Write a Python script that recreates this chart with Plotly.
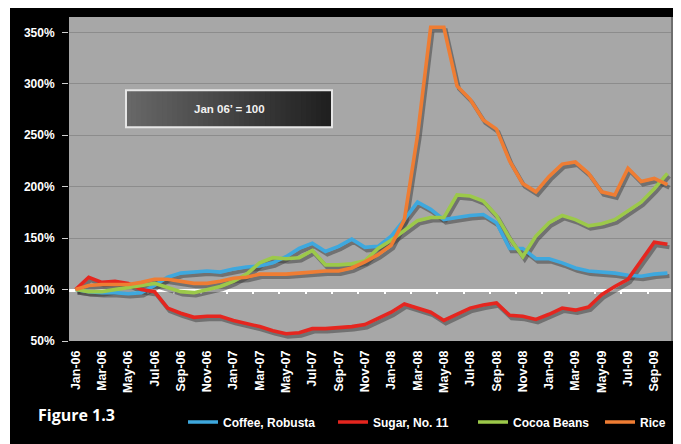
import plotly.graph_objects as go

# ---- data (index, Jan 2006 = 100) ----
months = ["Jan-06", "Feb-06", "Mar-06", "Apr-06", "May-06", "Jun-06", "Jul-06", "Aug-06", "Sep-06", "Oct-06", "Nov-06", "Dec-06",
          "Jan-07", "Feb-07", "Mar-07", "Apr-07", "May-07", "Jun-07", "Jul-07", "Aug-07", "Sep-07", "Oct-07", "Nov-07", "Dec-07",
          "Jan-08", "Feb-08", "Mar-08", "Apr-08", "May-08", "Jun-08", "Jul-08", "Aug-08", "Sep-08", "Oct-08", "Nov-08", "Dec-08",
          "Jan-09", "Feb-09", "Mar-09", "Apr-09", "May-09", "Jun-09", "Jul-09", "Aug-09", "Sep-09", "Oct-09"]

coffee = [100, 98, 97, 97, 96, 97, 104, 112, 116, 117, 118, 117,
          120, 122, 123, 126, 132, 140, 145, 137, 142, 149, 141, 142,
          152, 168, 185, 178, 168, 170, 172, 173, 165, 140, 140, 130,
          130, 126, 121, 118, 117, 116, 114, 113, 115, 116]

sugar = [100, 112, 107, 108, 106, 100, 98, 82, 77, 73, 74, 74,
         70, 67, 64, 60, 57, 58, 62, 62, 63, 64, 66, 72,
         78, 86, 82, 78, 70, 76, 82, 85, 87, 75, 74, 71,
         76, 82, 80, 83, 95, 103, 110, 128, 146, 144]

cocoa = [100, 98, 98, 100, 102, 104, 106, 102, 98, 97, 100, 103,
         108, 115, 126, 131, 130, 131, 138, 124, 124, 125, 128, 140,
         148, 158, 167, 170, 170, 192, 191, 186, 172, 150, 132, 152,
         165, 172, 168, 162, 164, 168, 176, 185, 198, 213]

rice = [100, 104, 105, 105, 105, 107, 110, 110, 108, 106, 106, 108,
        111, 112, 115, 115, 115, 116, 117, 118, 118, 121, 127, 134,
        143, 168, 250, 355, 355, 298, 285, 265, 256, 225, 203, 195,
        210, 222, 224, 213, 195, 192, 218, 205, 208, 202]

series = [("Coffee, Robusta", coffee, "#3ea8de"),
          ("Sugar, No. 11", sugar, "#e5261f"),
          ("Cocoa Beans", cocoa, "#9cc94a"),
          ("Rice", rice, "#ef7d33")]

y_ticks = [50, 100, 150, 200, 250, 300, 350]
y_tick_text = ["50%", "100%", "150%", "200%", "250%", "300%", "350%"]

idx = list(range(len(months)))
x_range = [-0.5, len(months) - 0.5]
y_range = [50, 365]

# plot box in page pixels (page has an 8px body margin round the figure)
PL, PR, PT, PB = 69, 674, 17, 349
PW, PH = PR - PL, PB - PT


def px(x):
    return (x - PL) / PW


def py(y):
    return (PB - y) / PH


# shadow offset (pixels -> data units)
sx = 2 / (PW / len(months))
sy = 3 / (PH / (y_range[1] - y_range[0]))

fig = go.Figure()

# shadows on the base axes (shifted ranges)
for name, vals, col in series:
    fig.add_trace(go.Scatter(x=idx, y=vals, mode="lines", showlegend=False, hoverinfo="skip",
                             line=dict(color="rgba(60,60,60,0.5)", width=4),
                             xaxis="x", yaxis="y"))

# real lines on the overlay axes, each with its own legend box
legend_x = [183, 333, 473, 600]
for k, (name, vals, col) in enumerate(series):
    fig.add_trace(go.Scatter(x=idx, y=vals, mode="lines", name=name,
                             line=dict(color=col, width=3.6),
                             xaxis="x2", yaxis="y2",
                             legend="legend" if k == 0 else f"legend{k + 1}"))

# carrier for the white 100% axis line
fig.add_trace(go.Scatter(x=[], y=[], xaxis="x3", yaxis="y2", showlegend=False))

x_font = dict(family="Liberation Sans, Arial", size=12.5, color="white", weight="bold")
y_font = dict(family="Liberation Sans, Arial", size=12, color="white", weight="bold")
leg_font = dict(family="Liberation Sans, Arial", size=12, color="white", weight="bold")

fig.update_layout(
    width=681 - 8, height=444 - 8,
    margin=dict(l=PL - 8, r=681 - PR, t=PT - 8, b=444 - PB),
    paper_bgcolor="black",
    plot_bgcolor="#a7a7a7",
    showlegend=True,
    xaxis=dict(range=[x_range[0] - sx, x_range[1] - sx], visible=False, fixedrange=True),
    yaxis=dict(range=[y_range[0] + sy, y_range[1] + sy], visible=False, fixedrange=True),
    xaxis2=dict(overlaying="x", anchor="y2", side="bottom", range=x_range,
                tickmode="array", tickvals=idx[::2], ticktext=months[::2],
                tickangle=-90, tickfont=x_font, ticks="", showgrid=False,
                ticklabelstandoff=6, showline=False, zeroline=False),
    yaxis2=dict(overlaying="y", anchor="x2", side="left", range=y_range,
                tickmode="array", tickvals=y_ticks, ticktext=y_tick_text,
                tickfont=y_font, ticks="outside", ticklen=6, tickcolor="#cfcfcf",
                ticklabelstandoff=5, showgrid=True, gridcolor="#8c8c8c", gridwidth=1,
                showline=False, zeroline=False),
    xaxis3=dict(overlaying="x", anchor="free",
                position=(100 - y_range[0]) / (y_range[1] - y_range[0]),
                range=x_range, showline=True, linecolor="white", linewidth=2.5,
                ticks="outside", ticklen=3, tickwidth=1.5, tickcolor="white",
                tickmode="array", tickvals=[i + 0.5 for i in idx[1::2]],
                showticklabels=False, showgrid=False, zeroline=False, layer="below traces"),
)

for k, lx in enumerate(legend_x):
    key = "legend" if k == 0 else f"legend{k + 1}"
    fig.update_layout({key: dict(orientation="h", x=px(lx), xanchor="left", y=py(432),
                                 yanchor="middle", font=leg_font, bgcolor="rgba(0,0,0,0)",
                                 itemwidth=30)})

# thin white strip left of the black frame
fig.add_shape(type="rect", xref="paper", yref="paper", x0=px(0), x1=px(10),
              y0=-0.5, y1=1.2, fillcolor="white", line_width=0, layer="above")

# darker right edge of the plot area
fig.add_shape(type="line", xref="paper", yref="paper", x0=px(PR - 1.5), x1=px(PR - 1.5),
              y0=0, y1=1, line=dict(color="#6e6e6e", width=3), layer="above")

# "Jan 06' = 100" box with a dark gradient (stacked bands, each to the right edge)
bx0, bx1 = px(126), px(332)
by0, by1 = py(130), py(92)
n_band = 40
for k in range(n_band):
    g = int(104 - k * (72 / (n_band - 1)))
    fig.add_shape(type="rect", xref="paper", yref="paper",
                  x0=bx0 + (bx1 - bx0) * k / n_band, x1=bx1,
                  y0=by0, y1=by1, fillcolor=f"rgb({g},{g},{g})", line_width=0, layer="above")
fig.add_shape(type="rect", xref="paper", yref="paper", x0=bx0, x1=bx1, y0=by0, y1=by1,
              line=dict(color="#e6e6e6", width=2), fillcolor="rgba(0,0,0,0)", layer="above")
fig.add_annotation(x=(bx0 + bx1) / 2, y=(by0 + by1) / 2, xref="paper", yref="paper",
                   xanchor="center", yanchor="middle",
                   text="Jan 06\u2019 = 100", showarrow=False,
                   font=dict(family="Liberation Sans, Arial", size=11.5, color="#f2f2f2", weight="bold"))

fig.add_annotation(x=px(36), y=py(425), xref="paper", yref="paper",
                   xanchor="left", yanchor="middle", text="Figure 1.3", showarrow=False,
                   font=dict(family="Open Sans", size=16, color="white", weight="bold"))

fig.write_html("out.html")
